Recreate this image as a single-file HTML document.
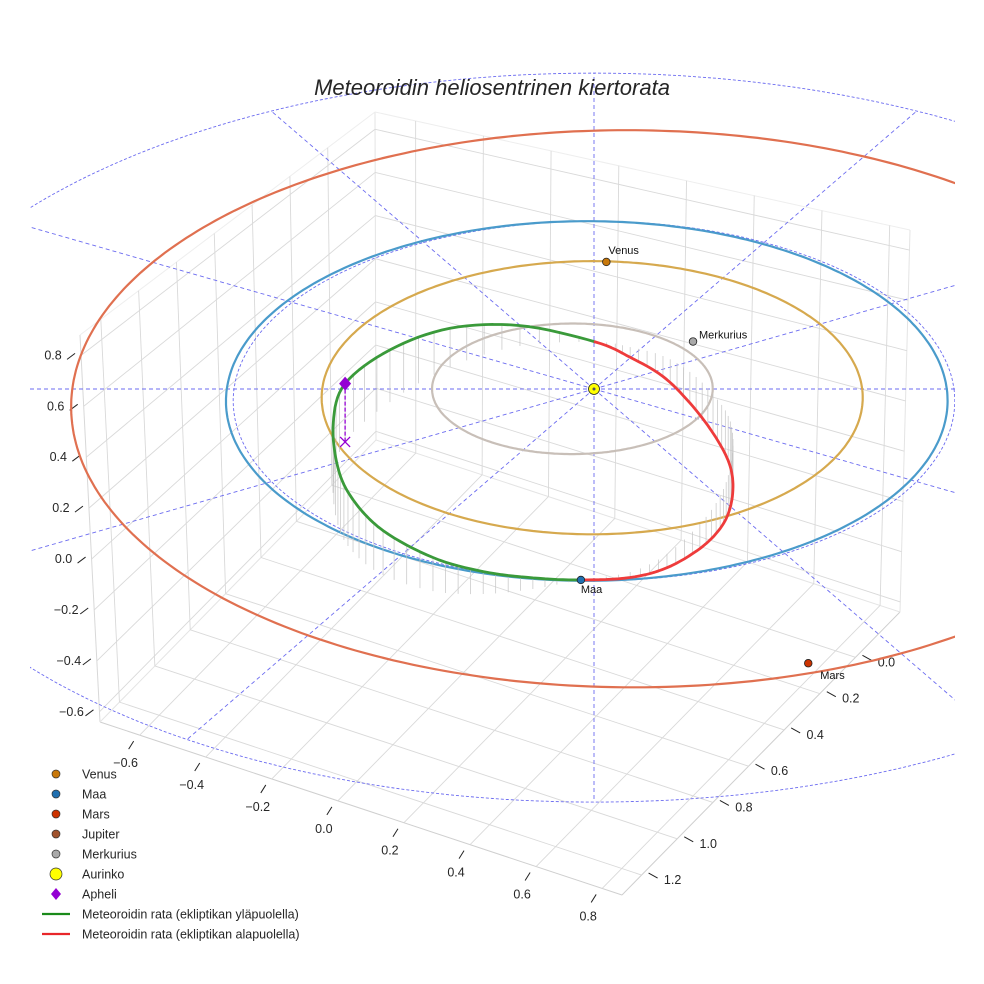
<!DOCTYPE html>
<html><head><meta charset="utf-8">
<style>
html,body{margin:0;padding:0;background:#fff;}
svg{display:block;font-family:"Liberation Sans",sans-serif;}
</style></head>
<body>
<svg id="chart" width="984" height="984" viewBox="0 0 984 984" xmlns="http://www.w3.org/2000/svg">
<defs><clipPath id="clipAx"><rect x="30" y="0" width="925" height="984"/></clipPath></defs>
<g id="box"></g>
<g id="ticks"></g>
<g id="grid" clip-path="url(#clipAx)"></g>
<g id="orbits" clip-path="url(#clipAx)"></g>
<g id="meteor"></g>
<g id="planets"></g>
<text x="492" y="95" text-anchor="middle" font-size="22" font-style="italic" fill="#262626">Meteoroidin heliosentrinen kiertorata</text>
<g id="legend"></g>
</svg>
<script>
// ---- data ----
const xTicks = [-0.6,-0.4,-0.2,0.0,0.2,0.4,0.6,0.8];
const yTicks = [0.0,0.2,0.4,0.6,0.8,1.0,1.2];
const zTicks = [-0.6,-0.4,-0.2,0.0,0.2,0.4,0.6,0.8];
const xRange = [-0.72, 0.86];
const yRange = [-0.25, 1.31];
const zRange = [-0.64, 0.88];

const orbitNames = ["Mars","Maa","Venus","Merkurius"];
const orbitA = [1.55, 1.0, 0.75, 0.39];
const orbitB = [1.55, 1.0, 0.76, 0.365];
const orbitOffX = [0.1, -0.02, -0.005, -0.06];
const orbitOffY = [-0.05, 0.0, 0.01, -0.01];
const orbitColors = ["#e07050","#4a9bcb","#d6a94e","#c8bfb8"];

const planetNames = ["Venus","Merkurius","Maa","Mars"];
const planetX = [0.036, 0.28, -0.034, 0.54];
const planetY = [-0.745, -0.27, 0.996, 1.39];
const planetColors = ["#c8780a","#a9a9a9","#1f6fb0","#cc3300"];

const meteorX = [-0.034,-0.158,-0.286,-0.416,-0.548,-0.631,-0.677,-0.70,-0.678,-0.564,-0.403,-0.209,0.003,0.102,0.194,0.268,0.33,0.369,0.379,0.367,0.337,0.28,0.191,0.094];
const meteorY = [0.996,1.04,1.064,1.05,0.972,0.859,0.723,0.502,0.29,0.073,-0.124,-0.244,-0.268,-0.238,-0.187,-0.096,0.028,0.149,0.274,0.429,0.575,0.718,0.868,0.957];
const meteorZ = [0,0.04,0.08,0.12,0.16,0.19,0.21,0.22,0.22,0.2,0.15,0.08,0,-0.04,-0.08,-0.12,-0.15,-0.17,-0.17,-0.15,-0.12,-0.09,-0.05,-0.02];
const aphelionIndex = 8;
const nodeIndex = 12;

const gridRadii = [1.0, 2.0];
const gridAngles = [0,30,60,90,120,150,180,210,240,270,300,330];

const legendLabels = ["Venus","Maa","Mars","Jupiter","Merkurius","Aurinko","Apheli","Meteoroidin rata (ekliptikan yläpuolella)","Meteoroidin rata (ekliptikan alapuolella)"];
const legendColors = ["#c8780a","#1f6fb0","#cc3300","#a0522d","#a9a9a9","#ffff00","#9400d3","#1a8a1a","#e8262a"];

// ---- helpers ----
const NS="http://www.w3.org/2000/svg";
function mk(tag, attrs, parent){const e=document.createElementNS(NS,tag);for(const k in attrs)e.setAttribute(k,attrs[k]);parent.appendChild(e);return e;}
function proj(X,Y,Z){const g=15/(15-Y);return [594+360*X*g, 389+179*Y*g-260*Z*g];}

const A0=[100,722],A1=[80,335],B0=[622,895],C0=[900,612],C1=[910,230],D0=[376,440],D1=[375,112];
const lerp=(p,q,t)=>[p[0]+(q[0]-p[0])*t,p[1]+(q[1]-p[1])*t];
function floorPt(s,t){const ab=lerp(A0,B0,s),dc=lerp(D0,C0,s);return lerp(ab,dc,t);}
const sX=x=>(x-xRange[0])/(xRange[1]-xRange[0]);
const tY=y=>(yRange[1]-y)/(yRange[1]-yRange[0]);
const wZ=z=>(z-zRange[0])/(zRange[1]-zRange[0]);

const box=document.getElementById('box');
function gl(p,q,col,w,name){const l=mk('line',{x1:p[0],y1:p[1],x2:q[0],y2:q[1],stroke:col,'stroke-width':w},box);

}
gl(A0,B0,"#cfcfcf",1,'x-axis-line');gl(B0,C0,"#cfcfcf",1,'y-axis-line');gl(A0,A1,"#d8d8d8",1,'z-axis-line');
gl(A0,D0,"#e4e4e4",1,'pane-edge');gl(D0,C0,"#e4e4e4",1,'pane-edge');gl(D0,D1,"#e4e4e4",1,'pane-edge');
gl(A1,D1,"#eeeeee",1,'pane-edge');gl(D1,C1,"#eeeeee",1,'pane-edge');gl(C0,C1,"#e4e4e4",1,'pane-edge');
xTicks.forEach(x=>{const s=sX(x);
  gl(floorPt(s,0),floorPt(s,1),"#d9d9d9",0.9,'floor-grid-x');
  const b=floorPt(s,1),tp=lerp(D1,C1,s);gl(b,tp,"#d9d9d9",0.9,'wall-grid-x');});
yTicks.forEach(y=>{const t=tY(y);
  gl(floorPt(0,t),floorPt(1,t),"#d9d9d9",0.9,'floor-grid-y');
  gl(lerp(A0,D0,t),lerp(A1,D1,t),"#d9d9d9",0.9,'wall-grid-y');});
zTicks.forEach(z=>{const w=wZ(z);
  const a=lerp(A0,A1,w),d=lerp(D0,D1,w),c=lerp(C0,C1,w);
  gl(a,d,"#d9d9d9",0.9,'wall-grid-z');gl(d,c,"#d9d9d9",0.9,'wall-grid-z');});

const tk=document.getElementById('ticks');
function lbl(x,y,txt,name){const t=mk('text',{x:x,y:y,'font-size':12.5,fill:'#262626','text-anchor':'middle'},tk);t.textContent=txt;

}
function tline(p,dx,dy){const l=mk('line',{x1:p[0],y1:p[1],x2:p[0]+dx,y2:p[1]+dy,stroke:'#222','stroke-width':1},tk);

}
const fmt=v=>(v<0?'\u2212':'')+Math.abs(v).toFixed(1);
xTicks.forEach(x=>{const p=floorPt(sX(x),0);tline([p[0]-6,p[1]+6],-5,8);lbl(p[0]-14,p[1]+32,fmt(x),'x-tick-label');});
yTicks.forEach(y=>{const p=floorPt(1,tY(y));tline([p[0]+7,p[1]-2],9,5);lbl(p[0]+31,p[1]+9,fmt(y),'y-tick-label');});
zTicks.forEach(z=>{const p=lerp(A0,A1,wZ(z));tline([p[0]-6,p[1]-2],-8,6);lbl(p[0]-28,p[1]+4,fmt(z),'z-tick-label');});

const grid=document.getElementById('grid');
gridRadii.forEach(r=>{let d='';for(let i=0;i<=360;i++){const a=i*Math.PI/180;const p=proj(r*Math.cos(a),r*Math.sin(a),0);d+=(i?'L':'M')+p[0].toFixed(1)+','+p[1].toFixed(1);}
  const e=mk('path',{d:d,fill:'none',stroke:'#6b6bf0','stroke-width':0.9,'stroke-dasharray':'3,2'},grid);
  
  });
gridAngles.forEach(ang=>{const a=ang*Math.PI/180;const r=gridRadii[gridRadii.length-1];const p=proj(0,0,0),q=proj(r*Math.cos(a),r*Math.sin(a),0);
  const e=mk('line',{x1:p[0],y1:p[1],x2:q[0],y2:q[1],stroke:'#6b6bf0','stroke-width':0.9,'stroke-dasharray':'4,3'},grid);
  
  });

const og=document.getElementById('orbits');
orbitNames.forEach((n,k)=>{let d='';for(let i=0;i<=360;i++){const a=i*Math.PI/180;const p=proj(orbitOffX[k]+orbitA[k]*Math.cos(a),orbitOffY[k]+orbitB[k]*Math.sin(a),0);d+=(i?'L':'M')+p[0].toFixed(1)+','+p[1].toFixed(1);}
  const e=mk('path',{d:d,fill:'none',stroke:orbitColors[k],'stroke-width':2.2},og);
  
  });

const mg=document.getElementById('meteor');
const N=meteorX.length;const samples=[];const SUB=8;
for(let i=0;i<N;i++){const p0=i-1<0?N-1:i-1,p1=i,p2=(i+1)%N,p3=(i+2)%N;
  for(let s=0;s<SUB;s++){const t=s/SUB,t2=t*t,t3=t2*t;
    const cr=(a,b,c,d)=>0.5*((2*b)+(-a+c)*t+(2*a-5*b+4*c-d)*t2+(-a+3*b-3*c+d)*t3);
    samples.push([cr(meteorX[p0],meteorX[p1],meteorX[p2],meteorX[p3]),cr(meteorY[p0],meteorY[p1],meteorY[p2],meteorY[p3]),cr(meteorZ[p0],meteorZ[p1],meteorZ[p2],meteorZ[p3])]);}}
samples.push(samples[0]);
samples.forEach((s,i)=>{if(i%2)return;const p=proj(s[0],s[1],s[2]),q=proj(s[0],s[1],0);
  const e=mk('line',{x1:p[0],y1:p[1],x2:q[0],y2:q[1],stroke:'#c4c4c4','stroke-width':0.7},mg);
  
  });
let dg='',dr='';
for(let i=0;i<samples.length-1;i++){const p=proj(...samples[i]),q=proj(...samples[i+1]);
  const seg='M'+p[0].toFixed(1)+','+p[1].toFixed(1)+'L'+q[0].toFixed(1)+','+q[1].toFixed(1);
  if(i<nodeIndex*SUB)dg+=seg;else dr+=seg;}
const pg=mk('path',{d:dg,fill:'none',stroke:'#3a9a3a','stroke-width':2.8,'stroke-linecap':'round'},mg);


const pr=mk('path',{d:dr,fill:'none',stroke:'#ee3b3b','stroke-width':2.8,'stroke-linecap':'round'},mg);


const ap=proj(meteorX[aphelionIndex],meteorY[aphelionIndex],meteorZ[aphelionIndex]);
const ab=proj(meteorX[aphelionIndex],meteorY[aphelionIndex],0);
const al=mk('line',{x1:ap[0],y1:ap[1],x2:ab[0],y2:ab[1],stroke:'#9400d3','stroke-width':1.3,'stroke-dasharray':'4,2'},mg);


const am=mk('path',{d:`M${ap[0]},${ap[1]-7}L${ap[0]+6},${ap[1]}L${ap[0]},${ap[1]+7}L${ap[0]-6},${ap[1]}Z`,fill:'#9400d3'},mg);


const ax=mk('path',{d:`M${ab[0]-5},${ab[1]-5}L${ab[0]+5},${ab[1]+5}M${ab[0]+5},${ab[1]-5}L${ab[0]-5},${ab[1]+5}`,stroke:'#9400d3','stroke-width':1.3},mg);



const pl=document.getElementById('planets');
const labelOff=[[2,-8],[6,-3],[0,13],[12,16]];
planetNames.forEach((n,k)=>{const p=proj(planetX[k],planetY[k],0);
  const c=mk('circle',{cx:p[0],cy:p[1],r:3.8,fill:planetColors[k],stroke:'#222','stroke-width':0.8},pl);
  
  
  const t=mk('text',{x:p[0]+labelOff[k][0],y:p[1]+labelOff[k][1],'font-size':11,fill:'#111'},pl);t.textContent=n;
  
  });
const sp=proj(0,0,0);
const sun=mk('circle',{cx:sp[0],cy:sp[1],r:5.5,fill:'#ffff00',stroke:'#222','stroke-width':0.8},pl);


const sd=mk('circle',{cx:sp[0],cy:sp[1],r:1.5,fill:'#555'},pl);



const lg=document.getElementById('legend');
legendLabels.forEach((n,i)=>{const y=774+i*20;
  let m;
  if(i<5){m=mk('circle',{cx:56,cy:y,r:4,fill:legendColors[i],stroke:'#333','stroke-width':0.7},lg);}
  else if(i===5){m=mk('circle',{cx:56,cy:y,r:6,fill:legendColors[i],stroke:'#333','stroke-width':0.7},lg);}
  else if(i===6){m=mk('path',{d:`M56,${y-6}L61,${y}L56,${y+6}L51,${y}Z`,fill:legendColors[i]},lg);}
  else {m=mk('line',{x1:42,y1:y,x2:70,y2:y,stroke:legendColors[i],'stroke-width':2.2},lg);}
  
  
  const t=mk('text',{x:82,y:y+4.5,'font-size':12.5,fill:'#262626'},lg);t.textContent=n;
  
  });
</script>
</body></html>
